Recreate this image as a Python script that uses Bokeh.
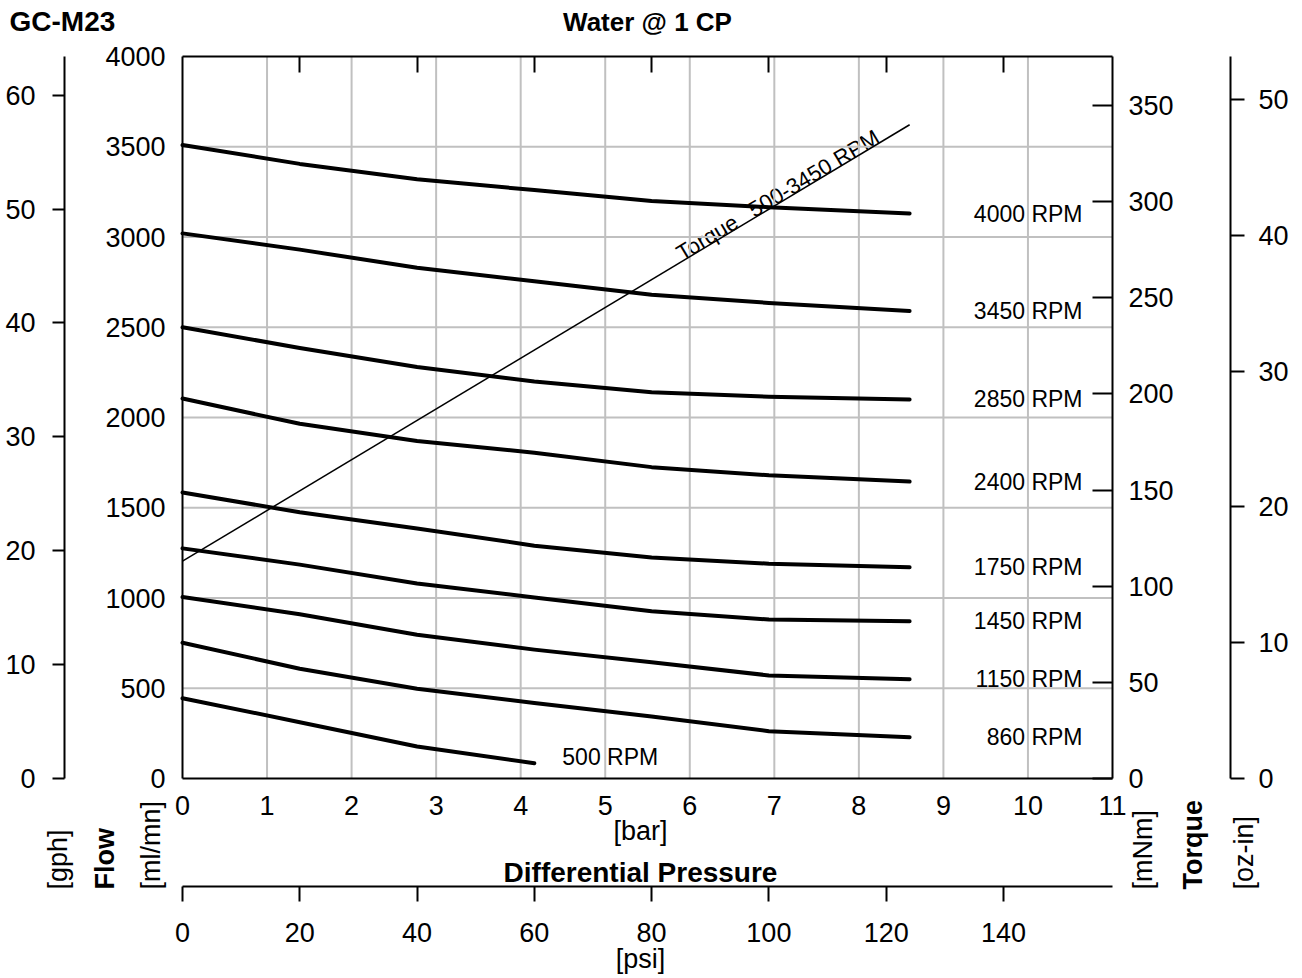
import math
import numpy as np
from bokeh.plotting import figure
from bokeh.models import Range1d, LinearAxis, FixedTicker, Label, ColumnDataSource
from bokeh.core.properties import value
from bokeh.embed import file_html
from bokeh.resources import INLINE

# ---------------- data ----------------
pressure_psi = [0, 20, 40, 60, 80, 100, 124]
flow_4000 = [3510, 3405, 3320, 3260, 3200, 3165, 3130]
flow_3450 = [3020, 2930, 2830, 2755, 2680, 2635, 2590]
flow_2850 = [2500, 2385, 2280, 2200, 2140, 2115, 2100]
flow_2400 = [2105, 1965, 1870, 1805, 1725, 1680, 1645]
flow_1750 = [1585, 1475, 1385, 1290, 1225, 1190, 1170]
flow_1450 = [1275, 1185, 1080, 1003, 927, 881, 871]
flow_1150 = [1005, 910, 796, 714, 644, 571, 550]
flow_860 = [752, 608, 497, 418, 343, 262, 229]
rpm_names = ["4000 RPM", "3450 RPM", "2850 RPM", "2400 RPM",
             "1750 RPM", "1450 RPM", "1150 RPM", "860 RPM"]
pressure_500 = [0, 20, 40, 60]
flow_500 = [445, 312, 177, 85]
name_500 = "500 RPM"
torque_psi = [0, 124]
torque_mNm = [113, 340]

bar_ticks = list(range(0, 12))
flow_ticks = list(range(0, 4001, 500))
gph_ticks = [0, 10, 20, 30, 40, 50, 60]
psi_ticks = [0, 20, 40, 60, 80, 100, 120, 140]
mNm_ticks = [0, 50, 100, 150, 200, 250, 300, 350]
ozin_ticks = [0, 10, 20, 30, 40, 50]

ML_PER_GPH = 3785.41 / 60.0
MNM_PER_OZIN = 7.0616
BAR_MAX, FLOW_MAX, PSI_MAX, MNM_MAX = 11, 4000, 158.6, 375.5
GPH_MAX = FLOW_MAX / ML_PER_GPH
OZIN_MAX = MNM_MAX / MNM_PER_OZIN

# ---------------- layout (pixels) ----------------
FONT = "Liberation Sans"
TICK_FS = "27px"
LBL_FS = "23px"
W, H = 1302, 978
FL, FR, FT, FB = 182, 1112, 56, 778      # plot box edges
FW, FH = FR - FL, FB - FT


def xr(lo, hi):
    s = (hi - lo) / FW
    return Range1d(lo - FL * s, hi + (W - FR) * s)


def yr(lo, hi):
    s = (hi - lo) / FH
    return Range1d(lo - (H - FB) * s, hi + FT * s)


def xd(px):  # pixel -> bar
    return (px - FL) / FW * BAR_MAX


def yd(py):  # pixel -> ml/mn
    return (FB - py) / FH * FLOW_MAX


p = figure(width=W, height=H, x_range=xr(0, BAR_MAX), y_range=yr(0, FLOW_MAX),
           output_backend="svg", toolbar_location=None, title=None,
           x_axis_type=None, y_axis_type=None, min_border=0)
p.background_fill_color = "white"
p.border_fill_color = "white"
p.outline_line_color = None

p.extra_x_ranges = {"psi": xr(0, PSI_MAX)}
p.extra_y_ranges = {"gph": yr(0, GPH_MAX), "torque": yr(0, MNM_MAX), "ozin": yr(0, OZIN_MAX)}


def axis(**kw):
    base = dict(major_tick_in=0, major_tick_out=0, minor_tick_in=0, minor_tick_out=0,
                major_tick_line_color="black", major_tick_line_width=2,
                axis_line_color="black", axis_line_width=2,
                major_label_text_font=FONT, major_label_text_font_size=TICK_FS,
                major_label_text_color="black")
    base.update(kw)
    return LinearAxis(**base)


# left: ml/mn on the plot box, gph further out
p.add_layout(axis(ticker=FixedTicker(ticks=flow_ticks), fixed_location=0,
                  bounds=(0, FLOW_MAX), major_label_standoff=17), "left")
p.add_layout(axis(y_range_name="gph", ticker=FixedTicker(ticks=gph_ticks),
                  fixed_location=xd(64), bounds=(0, GPH_MAX),
                  major_tick_out=12, major_label_standoff=17), "left")

# right: mNm on the plot box (ticks inward), oz-in further out
p.add_layout(axis(y_range_name="torque", ticker=FixedTicker(ticks=mNm_ticks),
                  fixed_location=BAR_MAX, bounds=(0, MNM_MAX),
                  major_tick_in=20, major_label_standoff=16), "right")
p.add_layout(axis(y_range_name="ozin", ticker=FixedTicker(ticks=ozin_ticks),
                  fixed_location=xd(1230), bounds=(0, OZIN_MAX),
                  major_tick_out=14, major_label_standoff=14), "right")

# bottom: bar on the plot box, psi further down
p.add_layout(axis(ticker=FixedTicker(ticks=bar_ticks), fixed_location=0,
                  bounds=(0, BAR_MAX), major_label_standoff=17), "below")
p.add_layout(axis(x_range_name="psi", ticker=FixedTicker(ticks=psi_ticks),
                  fixed_location=yd(886), bounds=(0, PSI_MAX),
                  major_tick_out=15, major_label_standoff=21), "below")

# top: psi ticks pointing inward, no labels
p.add_layout(axis(x_range_name="psi", ticker=FixedTicker(ticks=psi_ticks[1:]),
                  fixed_location=FLOW_MAX, bounds=(0, PSI_MAX),
                  major_tick_in=16, major_label_standoff=0,
                  major_label_text_font_size="0px", major_label_text_color=None), "above")

# grid lines at the bar and ml/mn ticks, limited to the plot box
gx = bar_ticks[1:-1]
p.segment(x0=gx, x1=gx, y0=[0] * len(gx), y1=[FLOW_MAX] * len(gx),
          line_color="#c0c0c0", line_width=2, level="underlay")
gy = flow_ticks[1:-1]
p.segment(x0=[0] * len(gy), x1=[BAR_MAX] * len(gy), y0=gy, y1=gy,
          line_color="#c0c0c0", line_width=2, level="underlay")

# ---------------- curves ----------------
flows = [flow_4000, flow_3450, flow_2850, flow_2400, flow_1750, flow_1450, flow_1150, flow_860]
for f in flows:
    p.line(pressure_psi, f, x_range_name="psi", line_color="black", line_width=4,
           line_cap="round", line_join="round")
p.line(pressure_500, flow_500, x_range_name="psi", line_color="black", line_width=4,
       line_cap="round", line_join="round")
p.line(torque_psi, torque_mNm, x_range_name="psi", y_range_name="torque",
       line_color="black", line_width=1.5)

# RPM labels
lbl_src = ColumnDataSource(dict(x=[pressure_psi[-1]] * len(flows), y=[f[-1] for f in flows],
                                text=rpm_names))
end_px = FL + pressure_psi[-1] / PSI_MAX * FW
p.text(x="x", y="y", text="text", source=lbl_src, x_range_name="psi",
       x_offset=1082 - end_px, text_align="right", text_baseline="middle",
       text_font=value(FONT), text_font_size=LBL_FS, text_color="black", level="image")
p.text(x=[pressure_500[-1]], y=[flow_500[-1]], text=[name_500], x_range_name="psi",
       x_offset=28, y_offset=-6, text_align="left", text_baseline="middle",
       text_font=value(FONT), text_font_size=LBL_FS, text_color="black", level="image")

# torque label along the line (baseline a few pixels above the line)
ang = math.atan2((torque_mNm[1] - torque_mNm[0]) * FH / MNM_MAX,
                 (torque_psi[1] - torque_psi[0]) * FW / PSI_MAX)
lift = 8.6 / FH * MNM_MAX
for txt, px in [("Torque", 678), ("500-3450 RPM", 750)]:
    tp = (px - FL) / FW * PSI_MAX
    tm = float(np.interp(tp, torque_psi, torque_mNm)) + lift
    p.text(x=[tp], y=[tm], text=[txt], angle=ang, x_range_name="psi", y_range_name="torque",
           text_align="left", text_baseline="alphabetic",
           text_font=value(FONT), text_font_size="22px", text_color="black", level="image")


# ---------------- free texts ----------------
def lab(text, px, py, size, bold=False, angle=0.0, align="center", baseline="middle"):
    p.add_layout(Label(x=xd(px), y=yd(py), text=text,
                       angle=angle, text_align=align, text_baseline=baseline,
                       text_font=FONT, text_font_size=size, text_color="black",
                       text_font_style="bold" if bold else "normal"))


lab("GC-M23", 9, 21, "28px", bold=True, align="left")
lab("Water @ 1 CP", 647, 21, "26px", bold=True)
lab("[bar]", 640, 830, TICK_FS)
lab("Differential Pressure", 640, 872, "28px", bold=True)
lab("[psi]", 640, 958, TICK_FS)
for txt, px, bold in [("[gph]", 57, False), ("Flow", 104, True), ("[ml/mn]", 150, False),
                      ("[mNm]", 1142, False), ("Torque", 1192, True), ("[oz-in]", 1243, False)]:
    lab(txt, px, 889, TICK_FS, bold=bold, angle=math.pi / 2, align="left")

open("out.html", "w").write(file_html(p, INLINE))
